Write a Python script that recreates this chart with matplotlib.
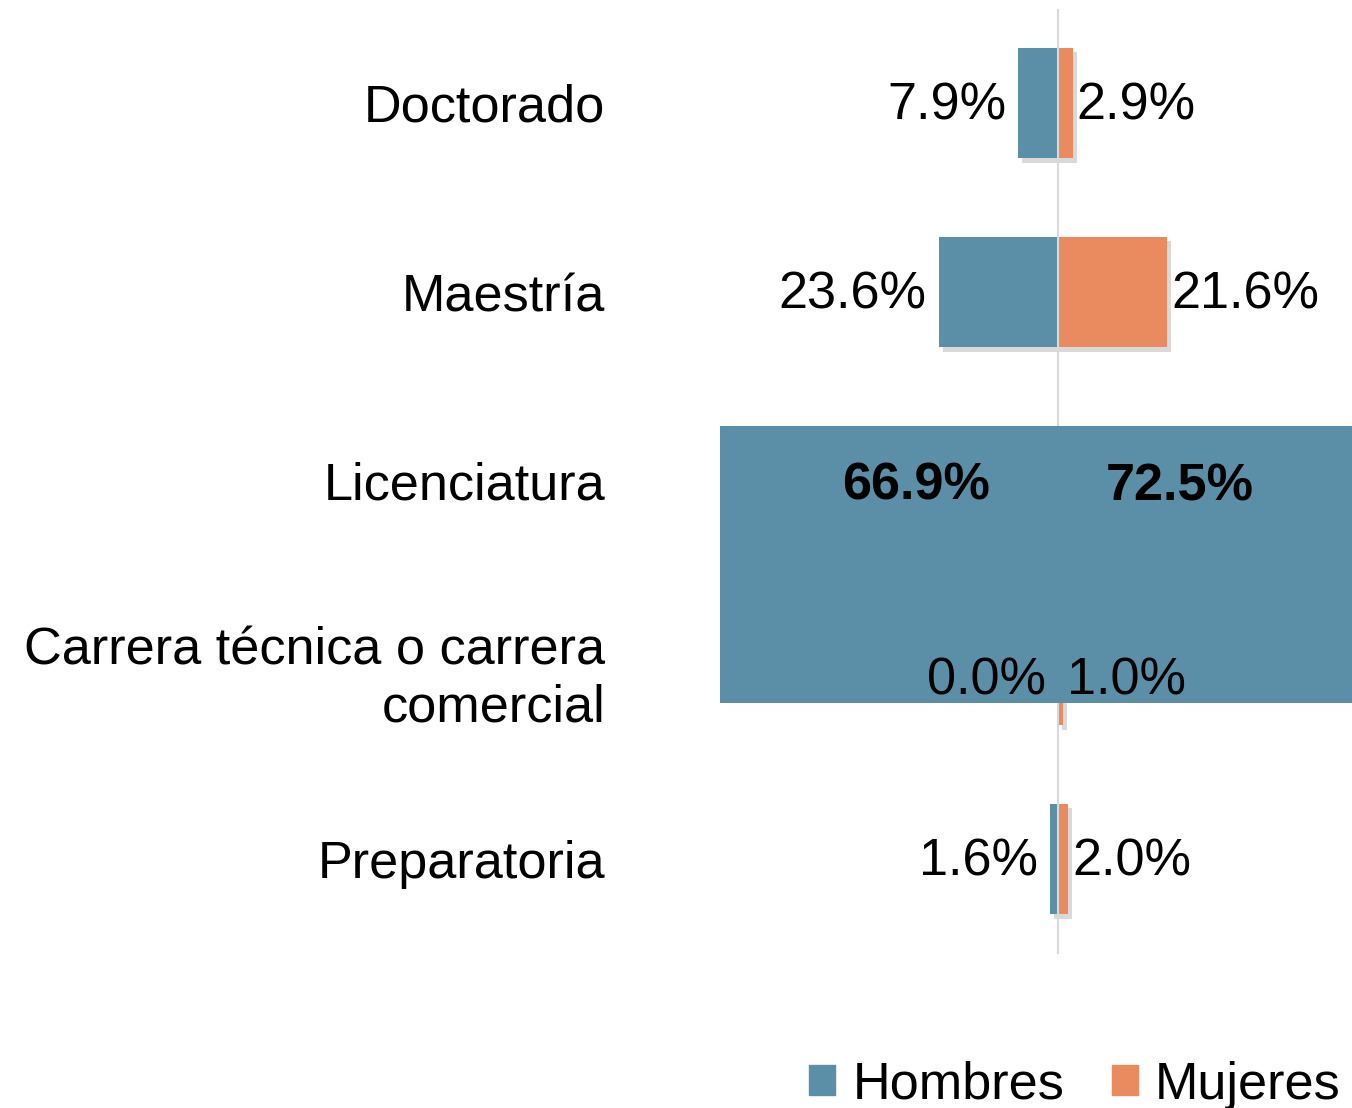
import matplotlib.pyplot as plt
import matplotlib.patheffects as pe
from matplotlib.patches import Patch
import numpy as np

categories = ['Doctorado', 'Maestría', 'Licenciatura',
              'Carrera técnica o carrera\ncomercial', 'Preparatoria']
hombres = [7.9, 23.6, 66.9, 0.0, 1.6]
mujeres = [2.9, 21.6, 72.5, 1.0, 2.0]

BLUE = '#5b8fa8'
ORANGE = '#e98a5f'
FS = 37.6

plt.rcParams['font.family'] = ['Liberation Sans', 'DejaVu Sans']

W, H = 1352, 1108
fig = plt.figure(figsize=(W / 100, H / 100), dpi=100)
# axes from x=620px to the right edge, zero line at x=1058px
ax = fig.add_axes([620 / W, (H - 953.5) / H, (W - 620) / W, 945 / H])

pos = np.arange(len(categories))
bar_h = 0.587
big = [c == 'Licenciatura' for c in categories]
heights = [1.47 if b else bar_h for b in big]
y0 = pos - bar_h / 2

hb = ax.barh(y0, [-v for v in hombres], height=heights, align='edge',
             color=BLUE, zorder=2)
mb = ax.barh(y0, mujeres, height=heights, align='edge',
             color=[BLUE if b else ORANGE for b in big], zorder=2)

shadow = [pe.SimplePatchShadow(offset=(3, -3), shadow_rgbFace='#777777', alpha=0.28), pe.Normal()]
for bars in (hb, mb):
    for patch, b in zip(bars.patches, big):
        if b:
            patch.set_zorder(4)
        else:
            patch.set_path_effects(shadow)

ax.axvline(0, color='#d9d9d9', lw=1.5, zorder=3)

scale = 5.05  # px per percentage point
ax.set_xlim(-438 / scale, 294 / scale)
ax.set_ylim(len(categories) - 0.5, -0.5)

for i, (h, m, b) in enumerate(zip(hombres, mujeres, big)):
    if b:
        ax.annotate(f'{h:.1f}%', xy=(-28.1, pos[i]), xytext=(0, -5),
                    textcoords='offset pixels', ha='center', va='center',
                    fontsize=FS, fontweight='bold', zorder=5)
        ax.annotate(f'{m:.1f}%', xy=(24.2, pos[i]), xytext=(0, -6),
                    textcoords='offset pixels', ha='center', va='center',
                    fontsize=FS, fontweight='bold', zorder=5)
        continue
    dy = -11 if 'Carrera' in categories[i] else -3
    ax.annotate(f'{h:.1f}%', xy=(-h, pos[i]), xytext=(-12, dy),
                textcoords='offset pixels', ha='right', va='center',
                fontsize=FS, zorder=5)
    ax.annotate(f'{m:.1f}%', xy=(m, pos[i]), xytext=(4, dy),
                textcoords='offset pixels', ha='left', va='center',
                fontsize=FS, zorder=5)

ax.set_yticks(pos, categories)
ax.tick_params(axis='y', length=0, pad=10.8, labelsize=FS)
ax.set_xticks([])
for s in ax.spines.values():
    s.set_visible(False)

handles = [Patch(color=BLUE, label='Hombres'), Patch(color=ORANGE, label='Mujeres')]
fig.legend(handles=handles, loc='lower right', bbox_to_anchor=(1372 / W, -33 / H),
           ncol=2, frameon=False, fontsize=FS, handlelength=0.5, handleheight=0.5,
           handletextpad=0.33, columnspacing=0.9, borderpad=0.1)

fig.savefig('out.png', dpi=100)
